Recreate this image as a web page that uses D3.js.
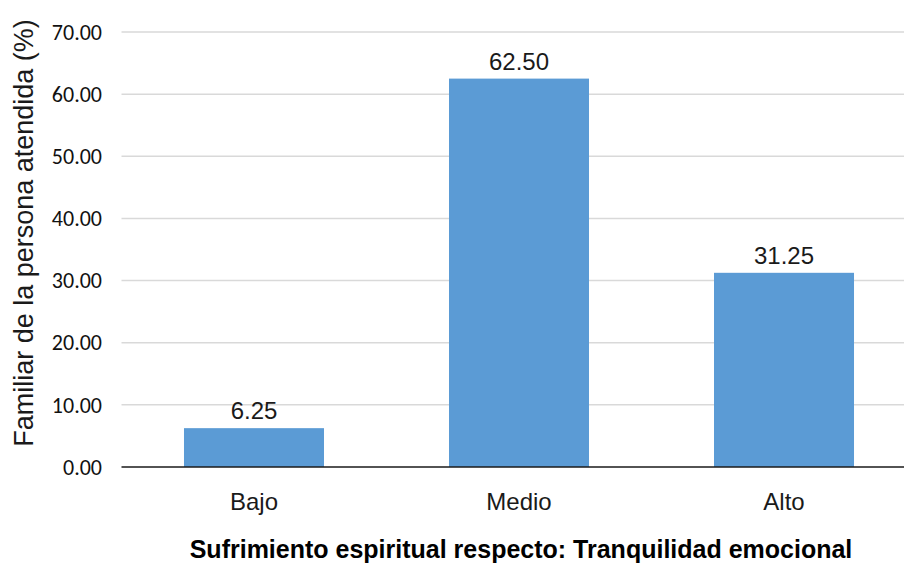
<!DOCTYPE html>
<html>
<head>
<meta charset="utf-8">
<script src="https://cdn.jsdelivr.net/npm/d3@7"></script>
<style>
  html, body { margin: 0; padding: 0; background: #fff; }
  svg { display: block; }
</style>
</head>
<body>
<svg id="chart" width="904" height="565"></svg>
<script>
// Chart data
const categories = ["Bajo", "Medio", "Alto"];
const values = [6.25, 62.50, 31.25];
const yTicks = [0, 10, 20, 30, 40, 50, 60, 70];
const yTitle = "Familiar de la persona atendida (%)";
const xTitle = "Sufrimiento espiritual respecto: Tranquilidad emocional";

const svg = d3.select("#chart");

const plot = { left: 121.5, right: 916.5, top: 32, bottom: 467 };

const x = d3.scaleBand()
  .domain(categories)
  .range([plot.left, plot.right])
  .paddingInner(0.4717)
  .paddingOuter(0.2358);

const y = d3.scaleLinear()
  .domain([0, 70])
  .range([plot.bottom, plot.top]);

// Horizontal gridlines
svg.append("g")
  .selectAll("line")
  .data(yTicks.filter(d => d > 0))
  .join("line")
  .attr("x1", plot.left)
  .attr("x2", 904)
  .attr("y1", d => y(d))
  .attr("y2", d => y(d))
  .attr("stroke", "#d9d9d9")
  .attr("stroke-width", 1.5);

// Bars
svg.append("g")
  .selectAll("rect")
  .data(values)
  .join("rect")
  .attr("x", (d, i) => x(categories[i]))
  .attr("width", x.bandwidth())
  .attr("y", d => y(d))
  .attr("height", d => y(0) - y(d))
  .attr("fill", "#5b9bd5");

// Baseline
svg.append("line")
  .attr("x1", plot.left)
  .attr("x2", 904)
  .attr("y1", y(0))
  .attr("y2", y(0))
  .attr("stroke", "#1a1a1a")
  .attr("stroke-width", 1.5);

// Y tick labels
svg.append("g")
  .selectAll("text")
  .data(yTicks)
  .join("text")
  .attr("x", 102)
  .attr("y", d => y(d))
  .attr("dy", "0.35em")
  .attr("text-anchor", "end")
  .attr("font-family", "Carlito, 'Open Sans', sans-serif")
  .attr("font-size", 22)
  .attr("fill", "#111")
  .text(d => d3.format(".2f")(d));

// Value labels
svg.append("g")
  .selectAll("text")
  .data(values)
  .join("text")
  .attr("x", (d, i) => x(categories[i]) + x.bandwidth() / 2)
  .attr("y", d => y(d) - 9)
  .attr("text-anchor", "middle")
  .attr("font-family", "'Liberation Sans', Arial, sans-serif")
  .attr("font-size", 24)
  .attr("fill", "#1a1a1a")
  .text(d => d3.format(".2f")(d));

// Category labels
svg.append("g")
  .selectAll("text")
  .data(categories)
  .join("text")
  .attr("x", d => x(d) + x.bandwidth() / 2)
  .attr("y", 510)
  .attr("text-anchor", "middle")
  .attr("font-family", "'Liberation Sans', Arial, sans-serif")
  .attr("font-size", 24)
  .attr("fill", "#1a1a1a")
  .text(d => d);

// X axis title
svg.append("text")
  .attr("x", 521)
  .attr("y", 558)
  .attr("text-anchor", "middle")
  .attr("font-family", "'Liberation Sans', Arial, sans-serif")
  .attr("font-size", 25)
  .attr("font-weight", "bold")
  .attr("fill", "#000")
  .text(xTitle);

// Y axis title
svg.append("text")
  .attr("transform", "translate(33,233) rotate(-90)")
  .attr("text-anchor", "middle")
  .attr("font-family", "'Liberation Sans', Arial, sans-serif")
  .attr("font-size", 27)
  .attr("fill", "#1a1a1a")
  .text(yTitle);
</script>
</body>
</html>
